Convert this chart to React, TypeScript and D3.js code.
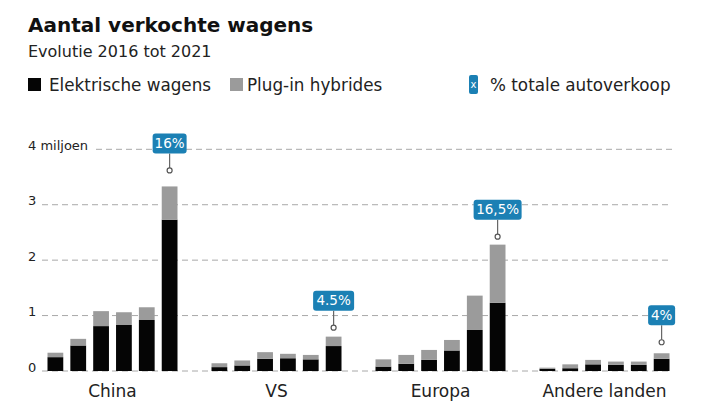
import React from "react";
import { scaleBand, scaleLinear, stack } from "d3";

// Sales in millions, 2016 through 2021
const years = ["2016", "2017", "2018", "2019", "2020", "2021"];
const regions = ["China", "VS", "Europa", "Andere landen"];
const electric = [
  [0.25, 0.46, 0.81, 0.83, 0.92, 2.73],
  [0.07, 0.1, 0.22, 0.23, 0.21, 0.45],
  [0.08, 0.13, 0.2, 0.37, 0.74, 1.23],
  [0.04, 0.05, 0.12, 0.11, 0.11, 0.22],
];
const plugin = [
  [0.08, 0.12, 0.27, 0.23, 0.23, 0.6],
  [0.07, 0.09, 0.12, 0.08, 0.08, 0.17],
  [0.13, 0.16, 0.18, 0.19, 0.62, 1.05],
  [0.02, 0.07, 0.08, 0.06, 0.06, 0.1],
];
const shareLabels = ["16%", "4.5%", "16,5%", "4%"];
const yTicks = [0, 1, 2, 3, 4];

const W = 702;
const H = 416;
const FONT = "'DejaVu Sans', sans-serif";
const BLACK = "#050505";
const GREY = "#9b9b9b";
const BLUE = "#1b80b4";
const GRID = "#a8a8a8";

// distance between the callout dot and the top of its bar
const calloutLift = [16, 9, 8, 11];

const x0 = scaleBand<string>().domain(regions).range([30.5, 686.5]);
const x1 = scaleBand<string>().domain(years).range([17, 147]).paddingInner(0.31);
const y = scaleLinear().domain([0, 4]).range([371, 149.3]);

type Row = { year: string; ev: number; phev: number };

export default function App() {
  const stacker = stack<Row>().keys(["ev", "phev"]);

  return (
    <svg
      width={W}
      height={H}
      viewBox={`0 0 ${W} ${H}`}
      style={{ position: "absolute", left: 0, top: 0, background: "#fff" }}
      fontFamily={FONT}
    >
      <text x={28} y={32} fontSize={20} fontWeight="bold" fill="#111">
        Aantal verkochte wagens
      </text>
      <text x={28} y={57} fontSize={16} fill="#222">
        Evolutie 2016 tot 2021
      </text>

      {/* legend */}
      <g fontSize={16.8} fill="#222">
        <rect x={28} y={78} width={13} height={13} fill={BLACK} />
        <text x={49} y={91}>Elektrische wagens</text>
        <rect x={230} y={78} width={13} height={13} fill={GREY} />
        <text x={247} y={91}>Plug-in hybrides</text>
        <rect x={469} y={75} width={9} height={19} rx={2} fill={BLUE} />
        <text x={473.5} y={88} fontSize={10} fill="#fff" textAnchor="middle">
          x
        </text>
        <text x={490} y={91}>% totale autoverkoop</text>
      </g>

      {/* grid */}
      <g>
        {yTicks.map((t) => (
          <g key={t}>
            <line
              x1={t === 4 ? 96 : 42}
              x2={672}
              y1={y(t)}
              y2={y(t)}
              stroke={GRID}
              strokeWidth={1}
              strokeDasharray="6 4"
            />
            <text x={28} y={y(t) + 0.5} fontSize={13} fill="#222">
              {t === 4 ? "4 miljoen" : t}
            </text>
          </g>
        ))}
      </g>

      {/* bars */}
      {regions.map((region, i) => {
        const rows: Row[] = years.map((yr, j) => ({
          year: yr,
          ev: electric[i][j],
          phev: plugin[i][j],
        }));
        const series = stacker(rows);
        const gx = x0(region)!;
        const last = rows.length - 1;
        const lastTop = y(series[1][last][1]);
        const cx = gx + x1(years[last])! + x1.bandwidth() / 2;
        const dotY = lastTop - calloutLift[i];
        const boxH = 20;
        const boxBottom = dotY - 17;
        const boxW = shareLabels[i].length * 7 + 13;
        return (
          <g key={region}>
            {series.map((s) => (
              <g key={s.key} fill={s.key === "ev" ? BLACK : GREY}>
                {s.map((d) => (
                  <rect
                    key={d.data.year}
                    x={gx + x1(d.data.year)!}
                    y={y(d[1])}
                    width={x1.bandwidth()}
                    height={y(d[0]) - y(d[1])}
                  />
                ))}
              </g>
            ))}
            <text
              x={gx + 82}
              y={397}
              fontSize={17}
              fill="#222"
              textAnchor="middle"
            >
              {region}
            </text>
            <line x1={cx} x2={cx} y1={boxBottom} y2={dotY - 2.5} stroke="#666" strokeWidth={1.2} />
            <circle cx={cx} cy={dotY} r={2.5} fill="#fff" stroke="#555" strokeWidth={1.2} />
            <rect
              x={cx - boxW / 2}
              y={boxBottom - boxH}
              width={boxW}
              height={boxH}
              rx={3}
              fill={BLUE}
            />
            <text
              x={cx}
              y={boxBottom - 5.5}
              fontSize={13.5}
              fill="#fff"
              textAnchor="middle"
            >
              {shareLabels[i]}
            </text>
          </g>
        );
      })}
    </svg>
  );
}
